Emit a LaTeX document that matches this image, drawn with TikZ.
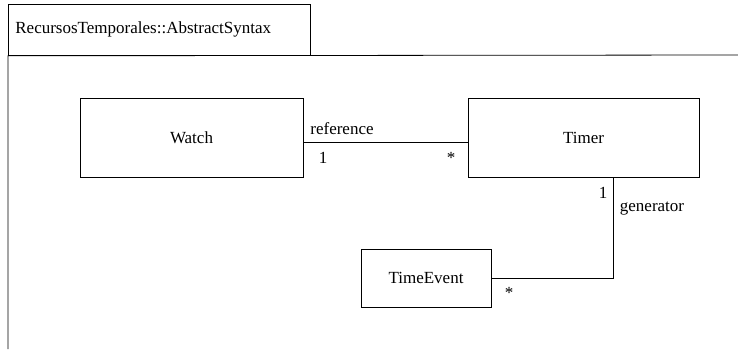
\documentclass[tikz,border=0pt]{standalone}
\usepackage{fontspec}
\setmainfont{Liberation Serif}
\usetikzlibrary{positioning}

\begin{document}
\begin{tikzpicture}[
    x=1pt, y=-1pt,
    every node/.style={font=\fontsize{17}{20}\selectfont},
    cls/.style={draw, line width=0.8pt, inner sep=0pt},
    lnk/.style={line width=0.8pt},
    lbl/.style={inner sep=0pt}
  ]
  \useasboundingbox (0,0) rectangle (738,349);

  % package tab and frame
  \node[cls, anchor=north west, minimum height=51pt, text width=288pt,
    inner xsep=7pt] (pkg) at (8,4) {RecursosTemporales::AbstractSyntax};
  \coordinate (frameR) at (738,55);
  \coordinate (frameB) at (8,349);
  \draw[lnk] (frameB) -- (pkg.south west) -- (frameR);

  % classes
  \node[cls, minimum width=223pt, minimum height=79pt] (watch) at (191.5,137.5) {Watch};
  \node[cls, minimum width=231pt, minimum height=79pt] (timer) at (583.5,137.5) {Timer};
  \node[cls, minimum width=130pt, minimum height=58pt] (event) at (426,278) {TimeEvent};

  % Watch -- Timer
  \draw[lnk] ([yshift=-4.5pt]watch.east) -- ([yshift=-4.5pt]timer.west);
  \node[lbl] (refname) at (342,129) {reference};
  \node[lbl] (refone) at (323,158) {1};
  \node[lbl] (refmany) at (451,158) {*};

  % Timer -- TimeEvent
  \draw[lnk] (event.east) -| ([xshift=29.5pt]timer.south);
  \node[lbl] (genone) at (603,193) {1};
  \node[lbl] (genname) at (652,209) {generator};
  \node[lbl] (genmany) at (509,293) {*};

\end{tikzpicture}
\end{document}
